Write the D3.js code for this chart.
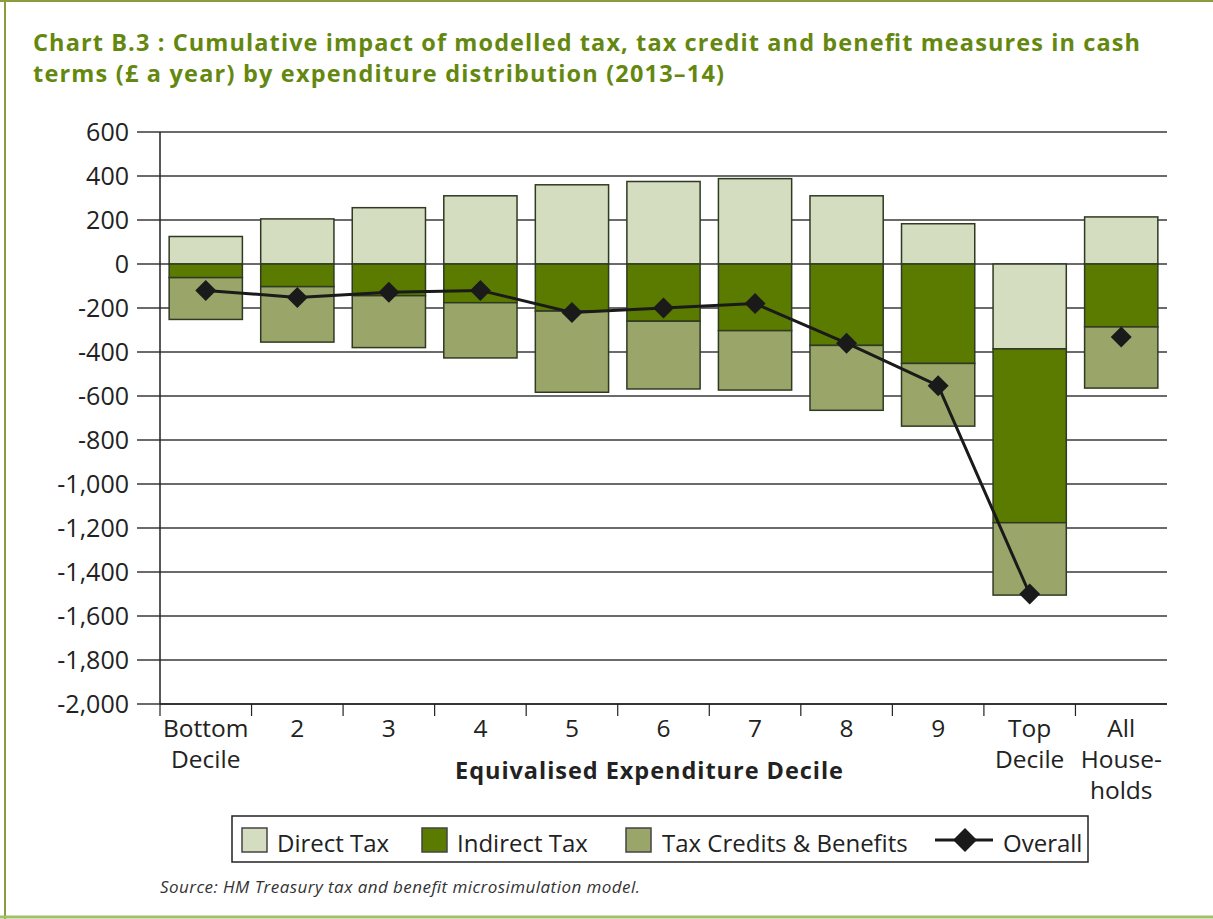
<!DOCTYPE html>
<html><head><meta charset="utf-8">
<script src="https://cdn.jsdelivr.net/npm/d3@7"></script>
<style>
html,body{margin:0;padding:0;background:#fff;}
svg{display:block;}
text{font-family:"Open Sans","Noto Sans",sans-serif;}
</style></head>
<body><svg id="c" width="1213" height="919"></svg>
<script>
const categories = ["Bottom Decile","2","3","4","5","6","7","8","9","Top Decile","All Households"];
const categoryLines = [["Bottom","Decile"],["2"],["3"],["4"],["5"],["6"],["7"],["8"],["9"],["Top","Decile"],["All","House-","holds"]];
const directTax = [125, 205, 256, 310, 360, 375, 388, 310, 183, -386, 214];
const indirectTax = [-62, -103, -144, -176, -214, -260, -303, -370, -452, -790, -286];
const taxCreditsBenefits = [-190, -252, -236, -251, -369, -308, -270, -295, -285, -329, -278];
const overall = [-120, -152, -128, -120, -220, -200, -180, -360, -553, -1500, -332];
const yTicks = [600,400,200,0,-200,-400,-600,-800,-1000,-1200,-1400,-1600,-1800,-2000];
const seriesNames = ["Direct Tax","Indirect Tax","Tax Credits & Benefits"];
const seriesColors = ["#d5ddc0","#5a7b00","#9aa669"];

(function(){
const svg = d3.select("#c");
// frame
svg.append("line").attr("x1",0).attr("x2",1213).attr("y1",1).attr("y2",1).attr("stroke","#8c9c3c").attr("stroke-width",2);
svg.append("line").attr("x1",5).attr("x2",5).attr("y1",0).attr("y2",919).attr("stroke","#8c9c3c").attr("stroke-width",2);
svg.append("line").attr("x1",0).attr("x2",1213).attr("y1",917).attr("y2",917).attr("stroke","#a4bf6c").attr("stroke-width",3);

// title
const title = svg.append("text").attr("fill","#64880f").attr("font-size",23.5).attr("font-weight",700);
title.append("tspan").attr("x",33).attr("y",51).attr("textLength",1107).attr("lengthAdjust","spacing").text("Chart B.3 : Cumulative impact of modelled tax, tax credit and benefit measures in cash");
title.append("tspan").attr("x",33).attr("y",82).attr("textLength",691).attr("lengthAdjust","spacing").text("terms (£ a year) by expenditure distribution (2013–14)");

const pL = 160, pR = 1167, pT = 132, pB = 704;
const x = d3.scaleBand().domain(categories).range([pL, pR]).paddingInner(0.2).paddingOuter(0.1);
const y = d3.scaleLinear().domain([-2000, 600]).range([pB, pT]);

// gridlines
svg.append("g").selectAll("line").data(yTicks).join("line")
  .attr("x1",137).attr("x2",pR).attr("y1",d=>y(d)).attr("y2",d=>y(d))
  .attr("stroke","#3a3a3a").attr("stroke-width",1.5);
// y labels
svg.append("g").selectAll("text").data(yTicks).join("text")
  .attr("x",129).attr("y",d=>y(d)).attr("dy","0.36em").attr("text-anchor","end")
  .attr("font-size",25).attr("fill","#222").text(d=>d3.format(",")(d).replace("\u2212","-"));
// y axis line
svg.append("line").attr("x1",pL).attr("x2",pL).attr("y1",pT).attr("y2",pB).attr("stroke","#222").attr("stroke-width",1.5);

// bars
const rows = categories.map((c,i)=>({cat:c, "Direct Tax":directTax[i], "Indirect Tax":indirectTax[i], "Tax Credits & Benefits":taxCreditsBenefits[i]}));
const stack = d3.stack().keys(seriesNames).offset(d3.stackOffsetDiverging)(rows);
stack.forEach((s,si)=>{
  svg.append("g").selectAll("rect").data(s).join("rect")
    .attr("x",d=>x(d.data.cat)).attr("width",x.bandwidth())
    .attr("y",d=>y(Math.max(d[0],d[1]))).attr("height",d=>Math.abs(y(d[0])-y(d[1])))
    .attr("fill",seriesColors[si]).attr("stroke","#2f3a22").attr("stroke-width",1.5);
});

// x axis
svg.append("line").attr("x1",pL).attr("x2",pR).attr("y1",pB).attr("y2",pB).attr("stroke","#222").attr("stroke-width",1.5);
const step = x.step();
svg.append("g").selectAll("line").data(d3.range(0,categories.length)).join("line")
  .attr("x1",i=>pL+step*i).attr("x2",i=>pL+step*i).attr("y1",pB).attr("y2",pB+12)
  .attr("stroke","#222").attr("stroke-width",1.2);
svg.append("g").selectAll("text").data(categories).join("text")
  .attr("text-anchor","middle").attr("font-size",24.5).attr("fill","#222")
  .each(function(d,i){
    const t=d3.select(this);
    categoryLines[i].forEach((ln,j)=>t.append("tspan").attr("x",x(d)+x.bandwidth()/2).attr("y",737+j*31).text(ln));
  });
svg.append("text").attr("x",455).attr("y",779).attr("textLength",388).attr("lengthAdjust","spacing")
  .attr("font-size",23.5).attr("font-weight",700).attr("fill","#222").text("Equivalised Expenditure Decile");

// overall line
const cx = d => x(d)+x.bandwidth()/2;
const lineData = categories.slice(0,10).map((c,i)=>[cx(c), y(overall[i])]);
svg.append("path").attr("d",d3.line()(lineData)).attr("fill","none").attr("stroke","#1a1a1a").attr("stroke-width",3);
svg.append("g").selectAll("path").data(categories).join("path")
  .attr("transform",(d,i)=>`translate(${cx(d)},${y(overall[i])}) rotate(45)`)
  .attr("d",d3.symbol().type(d3.symbolSquare).size(220)).attr("fill","#1a1a1a");

// legend
const lg = svg.append("g");
lg.append("rect").attr("x",232).attr("y",816).attr("width",856).attr("height",46).attr("fill","#fff").attr("stroke","#222").attr("stroke-width",1.5);
const legendItems = [{n:"Direct Tax",sx:242,tx:277},{n:"Indirect Tax",sx:422,tx:457},{n:"Tax Credits & Benefits",sx:626,tx:662}];
legendItems.forEach((it,i)=>{
  lg.append("rect").attr("x",it.sx).attr("y",828).attr("width",25).attr("height",24).attr("fill",seriesColors[i]).attr("stroke","#444").attr("stroke-width",1.5);
  lg.append("text").attr("x",it.tx).attr("y",843).attr("dy","0.36em").attr("font-size",24).attr("fill","#222").text(it.n);
});
lg.append("line").attr("x1",935).attr("x2",993).attr("y1",840).attr("y2",840).attr("stroke","#1a1a1a").attr("stroke-width",3);
lg.append("path").attr("transform","translate(965,840) rotate(45)").attr("d",d3.symbol().type(d3.symbolSquare).size(288)).attr("fill","#1a1a1a");
lg.append("text").attr("x",1003).attr("y",843).attr("dy","0.36em").attr("font-size",24).attr("fill","#222").text("Overall");

svg.append("text").attr("x",160).attr("y",893).attr("textLength",480).attr("lengthAdjust","spacing")
  .attr("font-size",17).attr("font-style","italic").attr("fill","#333").text("Source: HM Treasury tax and benefit microsimulation model.");
})();
</script></body></html>
